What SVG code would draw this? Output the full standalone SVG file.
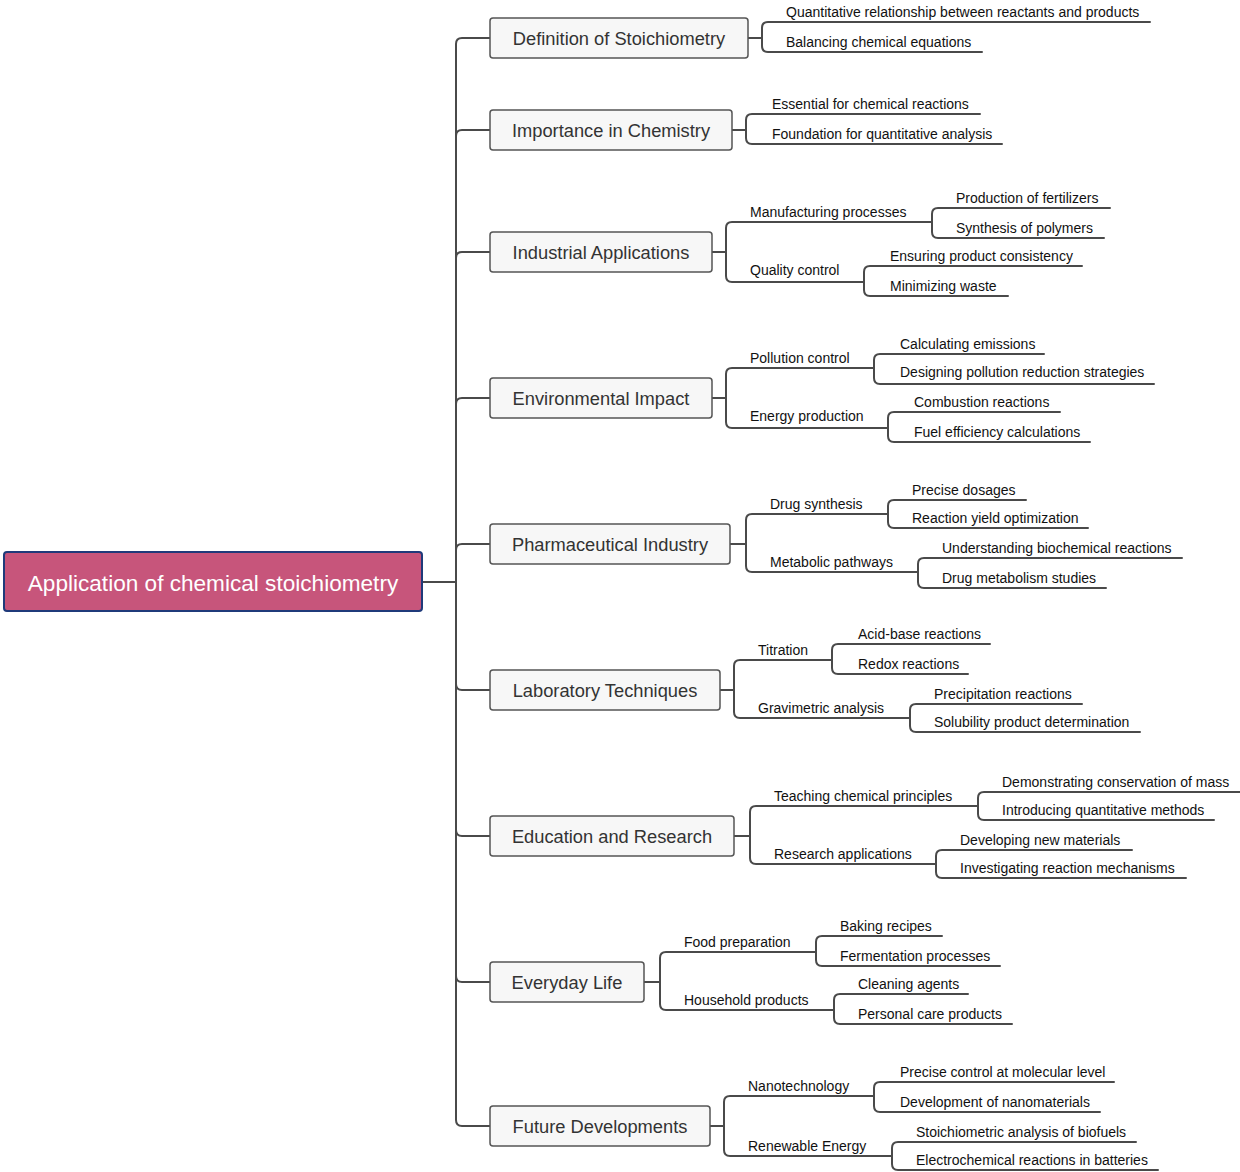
<svg xmlns="http://www.w3.org/2000/svg" width="1240" height="1172" viewBox="0 0 1240 1172">
<style>
.c{fill:none;stroke:#4a4a4a;stroke-width:2;stroke-linecap:round}
.n rect{fill:#f7f7f7;stroke:#555;stroke-width:1.5}
.n text{font-family:"Liberation Sans",Arial,sans-serif;font-size:18.3px;fill:#333;text-anchor:middle}
.l{font-family:"Liberation Sans",Arial,sans-serif;font-size:14px;fill:#111}
</style>
<rect width="1240" height="1172" fill="#fff"/>
<g id="connectors">
<path class="c" d="M422 582H456V44Q456 38 462 38H490M456 136Q456 130 462 130H490M456 258Q456 252 462 252H490M456 404Q456 398 462 398H490M456 550Q456 544 462 544H490"/>
<path class="c" d="M456 582V1120Q456 1126 462 1126H490M456 684Q456 690 462 690H490M456 830Q456 836 462 836H490M456 976Q456 982 462 982H490"/>
<path class="c" d="M748 38H762V28Q762 22 768 22H1150M762 38V46Q762 52 768 52H982"/>
<path class="c" d="M732 130H746V120Q746 114 752 114H980M746 130V138Q746 144 752 144H1002"/>
<path class="c" d="M712 252H726V228Q726 222 732 222H932M726 252V276Q726 282 732 282H864"/>
<path class="c" d="M932 222V214Q932 208 938 208H1110M932 222V232Q932 238 938 238H1104"/>
<path class="c" d="M864 282V272Q864 266 870 266H1082M864 282V290Q864 296 870 296H1008"/>
<path class="c" d="M712 398H726V374Q726 368 732 368H874M726 398V422Q726 428 732 428H888"/>
<path class="c" d="M874 368V360Q874 354 880 354H1044M874 368V378Q874 384 880 384H1154"/>
<path class="c" d="M888 428V418Q888 412 894 412H1060M888 428V436Q888 442 894 442H1090"/>
<path class="c" d="M730 544H746V520Q746 514 752 514H888M746 544V566Q746 572 752 572H918"/>
<path class="c" d="M888 514V506Q888 500 894 500H1026M888 514V522Q888 528 894 528H1088"/>
<path class="c" d="M918 572V564Q918 558 924 558H1182M918 572V582Q918 588 924 588H1106"/>
<path class="c" d="M720 690H734V666Q734 660 740 660H832M734 690V712Q734 718 740 718H910"/>
<path class="c" d="M832 660V650Q832 644 838 644H990M832 660V668Q832 674 838 674H968"/>
<path class="c" d="M910 718V710Q910 704 916 704H1082M910 718V726Q910 732 916 732H1140"/>
<path class="c" d="M734 836H750V812Q750 806 756 806H978M750 836V858Q750 864 756 864H936"/>
<path class="c" d="M978 806V798Q978 792 984 792H1240M978 806V814Q978 820 984 820H1214"/>
<path class="c" d="M936 864V856Q936 850 942 850H1132M936 864V872Q936 878 942 878H1186"/>
<path class="c" d="M644 982H660V958Q660 952 666 952H816M660 982V1004Q660 1010 666 1010H834"/>
<path class="c" d="M816 952V942Q816 936 822 936H942M816 952V960Q816 966 822 966H1000"/>
<path class="c" d="M834 1010V1000Q834 994 840 994H968M834 1010V1018Q834 1024 840 1024H1012"/>
<path class="c" d="M710 1126H724V1102Q724 1096 730 1096H874M724 1126V1150Q724 1156 730 1156H892"/>
<path class="c" d="M874 1096V1088Q874 1082 880 1082H1114M874 1096V1106Q874 1112 880 1112H1100"/>
<path class="c" d="M892 1156V1148Q892 1142 898 1142H1136M892 1156V1164Q892 1170 898 1170H1158"/>
</g>
<g id="root"><rect x="4" y="552" width="418" height="59" rx="3" fill="#c7557b" stroke="#1f3a7a" stroke-width="2"/><text x="213" y="591" font-family="'Liberation Sans',Arial,sans-serif" font-size="22.6" fill="#fff" text-anchor="middle">Application of chemical stoichiometry</text></g>
<g id="n1" class="n"><rect x="490" y="18" width="258" height="40" rx="3"/><text x="619" y="44.5">Definition of Stoichiometry</text></g>
<g id="n2" class="n"><rect x="490" y="110" width="242" height="40" rx="3"/><text x="611" y="136.5">Importance in Chemistry</text></g>
<g id="n3" class="n"><rect x="490" y="232" width="222" height="40" rx="3"/><text x="601" y="258.5">Industrial Applications</text></g>
<g id="n4" class="n"><rect x="490" y="378" width="222" height="40" rx="3"/><text x="601" y="404.5">Environmental Impact</text></g>
<g id="n5" class="n"><rect x="490" y="524" width="240" height="40" rx="3"/><text x="610" y="550.5">Pharmaceutical Industry</text></g>
<g id="n6" class="n"><rect x="490" y="670" width="230" height="40" rx="3"/><text x="605" y="696.5">Laboratory Techniques</text></g>
<g id="n7" class="n"><rect x="490" y="816" width="244" height="40" rx="3"/><text x="612" y="842.5">Education and Research</text></g>
<g id="n8" class="n"><rect x="490" y="962" width="154" height="40" rx="3"/><text x="567" y="988.5">Everyday Life</text></g>
<g id="n9" class="n"><rect x="490" y="1106" width="220" height="40" rx="3"/><text x="600" y="1132.5">Future Developments</text></g>
<g id="labels" class="l">
<text x="786" y="17">Quantitative relationship between reactants and products</text>
<text x="786" y="47">Balancing chemical equations</text>
<text x="772" y="109">Essential for chemical reactions</text>
<text x="772" y="139">Foundation for quantitative analysis</text>
<text x="750" y="217">Manufacturing processes</text>
<text x="956" y="203">Production of fertilizers</text>
<text x="956" y="233">Synthesis of polymers</text>
<text x="750" y="275">Quality control</text>
<text x="890" y="261">Ensuring product consistency</text>
<text x="890" y="291">Minimizing waste</text>
<text x="750" y="363">Pollution control</text>
<text x="900" y="349">Calculating emissions</text>
<text x="900" y="377">Designing pollution reduction strategies</text>
<text x="750" y="421">Energy production</text>
<text x="914" y="407">Combustion reactions</text>
<text x="914" y="437">Fuel efficiency calculations</text>
<text x="770" y="509">Drug synthesis</text>
<text x="912" y="495">Precise dosages</text>
<text x="912" y="523">Reaction yield optimization</text>
<text x="770" y="567">Metabolic pathways</text>
<text x="942" y="553">Understanding biochemical reactions</text>
<text x="942" y="583">Drug metabolism studies</text>
<text x="758" y="655">Titration</text>
<text x="858" y="639">Acid-base reactions</text>
<text x="858" y="669">Redox reactions</text>
<text x="758" y="713">Gravimetric analysis</text>
<text x="934" y="699">Precipitation reactions</text>
<text x="934" y="727">Solubility product determination</text>
<text x="774" y="801">Teaching chemical principles</text>
<text x="1002" y="787">Demonstrating conservation of mass</text>
<text x="1002" y="815">Introducing quantitative methods</text>
<text x="774" y="859">Research applications</text>
<text x="960" y="845">Developing new materials</text>
<text x="960" y="873">Investigating reaction mechanisms</text>
<text x="684" y="947">Food preparation</text>
<text x="840" y="931">Baking recipes</text>
<text x="840" y="961">Fermentation processes</text>
<text x="684" y="1005">Household products</text>
<text x="858" y="989">Cleaning agents</text>
<text x="858" y="1019">Personal care products</text>
<text x="748" y="1091">Nanotechnology</text>
<text x="900" y="1077">Precise control at molecular level</text>
<text x="900" y="1107">Development of nanomaterials</text>
<text x="748" y="1151">Renewable Energy</text>
<text x="916" y="1137">Stoichiometric analysis of biofuels</text>
<text x="916" y="1165">Electrochemical reactions in batteries</text>
</g>
</svg>
